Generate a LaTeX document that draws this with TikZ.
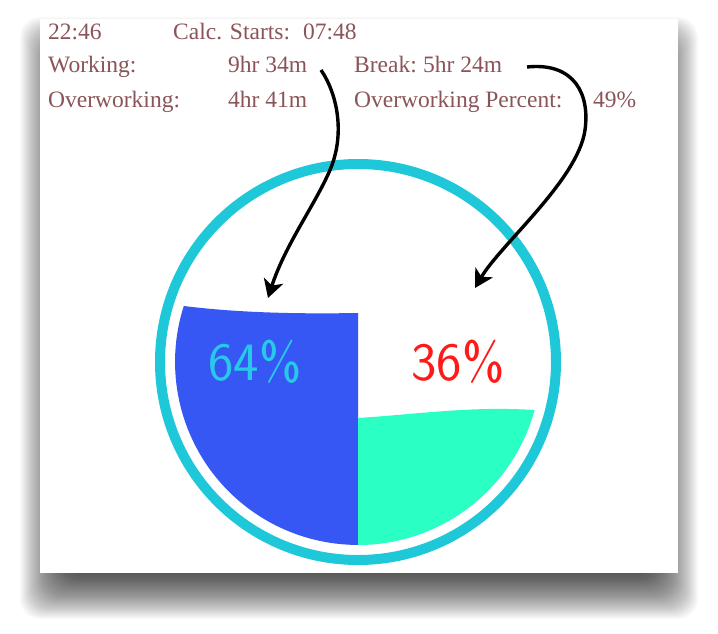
\documentclass[tikz,border=0pt]{standalone}
\usepackage{fontspec}
\setmainfont{Liberation Serif}
\usetikzlibrary{arrows.meta}

\definecolor{infotext}{RGB}{139,84,88}
\definecolor{ringcyan}{RGB}{30,200,216}
\definecolor{workblue}{RGB}{55,87,245}
\definecolor{breakgreen}{RGB}{42,255,196}
\definecolor{pctcyan}{RGB}{40,200,232}
\definecolor{pctred}{RGB}{255,26,26}

\tikzset{
  info/.style={anchor=base west, inner sep=0pt, text=infotext, font=\fontsize{23.5}{28}\selectfont},
  pct/.style={inner sep=0pt, font=\sffamily\fontsize{54}{64}\selectfont},
  pointer/.style={-{Stealth[length=18pt,width=20pt,inset=5pt]}, line width=3.4pt, black},
}

\begin{document}
\begin{tikzpicture}[x=1pt,y=-1pt]
    \useasboundingbox (0,0) rectangle (718,634);
    \fill[white] (0,0) rectangle (718,634);

    % Window shadow
    \foreach \e [evaluate=\e as \r using \e-25] in {0,...,50}
        \fill[black, fill opacity=0.02, rounded corners=20pt] (45-\r,42-\r) rectangle (673+\r,594+\r);

    % Window
    \fill[white] (40,19) rectangle (678,573);

    % Header lines
    \node[info] (clock) at (48,40) {22:46};
    \node[info] (calc) at (173,40) {Calc. Starts:};
    \node[info] (calctime) at (303,40) {07:48};

    \node[info] (work) at (48,73) {Working:};
    \node[info] (worktime) at (228,73) {9hr 34m};
    \node[info] (brk) at (354,73) {Break:};
    \node[info] (brktime) at (423,73) {5hr 24m};

    \node[info] (over) at (48,107) {Overworking:};
    \node[info] (overtime) at (228,107) {4hr 41m};
    \node[info] (overpct) at (354,107) {Overworking Percent:};
    \node[info] (overval) at (593,107) {49\%};

    % Pie filling
    \coordinate (c) at (358,362);
    \fill[workblue] (358,313) .. controls (300,314) and (240,313) .. (183.8,306)
        arc[start angle=197.8, end angle=90, radius=183] -- cycle;
    \fill[breakgreen] (358,418) .. controls (420,414) and (470,406) .. (534.6,410)
        arc[start angle=15.2, end angle=90, radius=183] -- cycle;

    % Ring
    \draw[ringcyan, line width=10pt] (c) circle[radius=198];

    % Percent labels
    \node[pct, text=pctcyan] (workpct) at (255,362) {64\%};
    \node[pct, text=pctred] (brkpct) at (458,362) {36\%};

    % Pointer arrows
    \coordinate (workfrom) at (321,70);
    \coordinate (workto) at (268,298);
    \coordinate (brkfrom) at (527,67);
    \coordinate (brkto) at (475,288);
    \draw[pointer] (workfrom) .. controls (338,95) and (345,135) .. (330,170)
        .. controls (315,205) and (285,245) .. (workto);
    \draw[pointer] (brkfrom) .. controls (575,62) and (590,95) .. (585,130)
        .. controls (578,180) and (500,245) .. (brkto);
\end{tikzpicture}
\end{document}
